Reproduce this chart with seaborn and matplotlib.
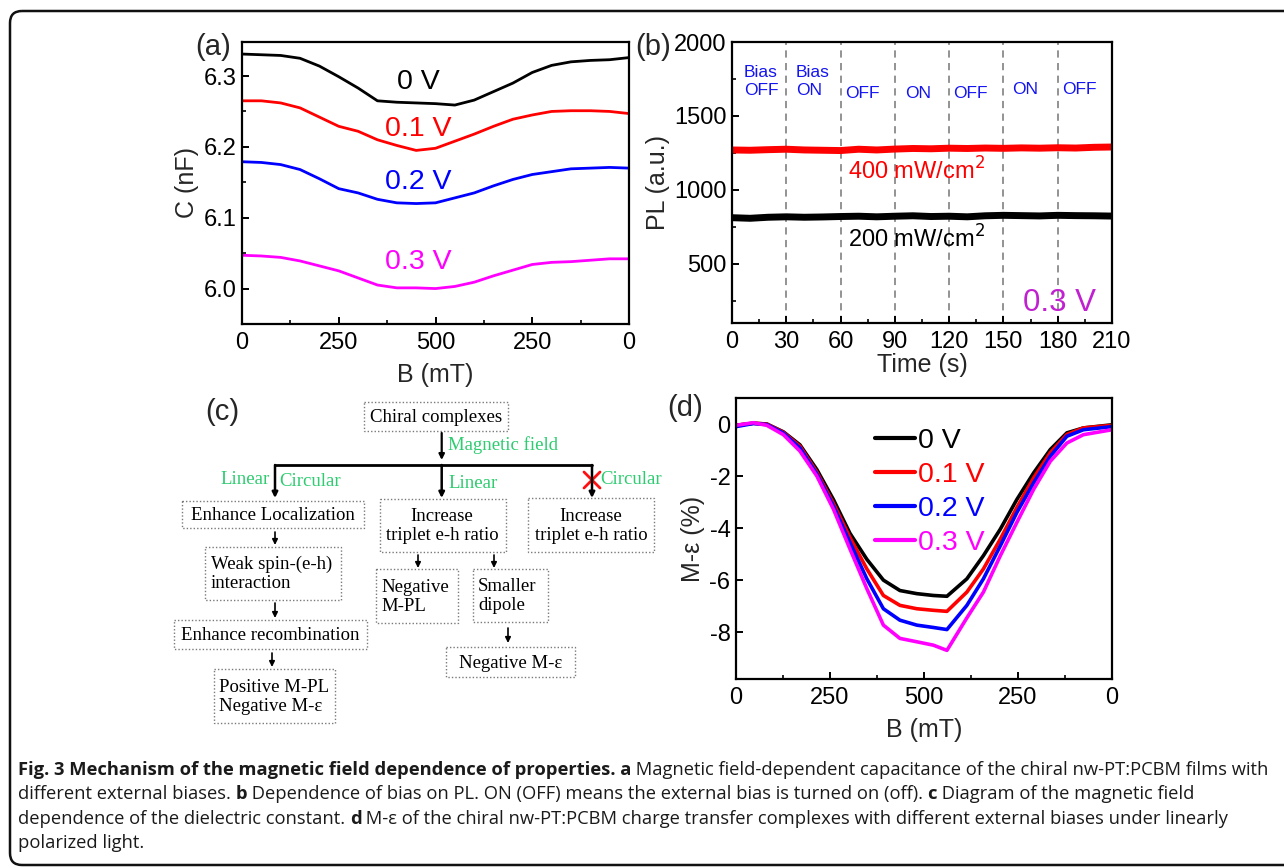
import matplotlib
matplotlib.use("Agg")
import matplotlib.pyplot as plt
import seaborn as sns
from matplotlib.patches import Rectangle, FancyBboxPatch
from matplotlib.ticker import MultipleLocator, FixedLocator

# ---------------- data ----------------
# (a) capacitance vs B (0 -> 500 -> 0 mT sweep, plotted on 0..1000)
b_sweep = [0, 50, 100, 150, 200, 250, 300, 350, 400, 450, 500,
           550, 600, 650, 700, 750, 800, 850, 900, 950, 1000]
cap_0v = [6.331, 6.330, 6.329, 6.325, 6.314, 6.299, 6.283, 6.265, 6.263, 6.262, 6.261,
          6.259, 6.266, 6.278, 6.290, 6.305, 6.315, 6.320, 6.322, 6.323, 6.326]
cap_01v = [6.265, 6.265, 6.262, 6.255, 6.242, 6.229, 6.222, 6.210, 6.202, 6.195, 6.198,
           6.208, 6.218, 6.229, 6.239, 6.245, 6.250, 6.251, 6.251, 6.250, 6.247]
cap_02v = [6.179, 6.178, 6.175, 6.168, 6.155, 6.141, 6.135, 6.126, 6.121, 6.120, 6.121,
           6.128, 6.135, 6.145, 6.154, 6.161, 6.165, 6.169, 6.170, 6.171, 6.170]
cap_03v = [6.047, 6.046, 6.044, 6.039, 6.032, 6.025, 6.015, 6.005, 6.001, 6.001, 6.000,
           6.003, 6.009, 6.018, 6.026, 6.034, 6.037, 6.038, 6.040, 6.042, 6.042]
b_ticks = [0, 250, 500, 750, 1000]
b_ticklabels = ["0", "250", "500", "250", "0"]

# (b) PL vs time
time_s = [0, 10, 20, 30, 40, 50, 60, 70, 80, 90, 100, 110,
          120, 130, 140, 150, 160, 170, 180, 190, 200, 210]
pl_400 = [1270, 1268, 1272, 1275, 1270, 1268, 1266, 1275, 1270, 1276, 1280, 1278,
          1282, 1280, 1283, 1281, 1284, 1282, 1285, 1283, 1288, 1290]
pl_200 = [812, 808, 815, 818, 815, 817, 820, 822, 818, 822, 825, 820,
          822, 818, 825, 828, 826, 824, 828, 826, 825, 823]
switch_times = [30, 60, 90, 120, 150, 180]
bias_states = ["Bias\nOFF", "Bias\nON", "OFF", "ON", "OFF", "ON", "OFF"]

# (d) M-epsilon vs B
b_sweep_d = [0, 46, 82, 126, 170, 215, 259, 303, 348, 392, 436, 481,
             525, 561, 614, 658, 703, 747, 792, 836, 880, 924, 1000]
me_0v = [-0.05, 0.03, 0.0, -0.30, -0.80, -1.75, -2.90, -4.20, -5.20, -6.00, -6.40, -6.52,
         -6.59, -6.62, -5.95, -5.06, -4.04, -2.90, -1.87, -0.98, -0.34, -0.15, -0.03]
me_01v = [-0.05, 0.03, 0.0, -0.32, -0.85, -1.85, -3.05, -4.36, -5.57, -6.59, -6.97, -7.10,
          -7.16, -7.20, -6.46, -5.57, -4.42, -3.21, -2.06, -1.10, -0.40, -0.15, -0.05]
me_02v = [-0.10, 0.02, -0.02, -0.35, -0.92, -1.92, -3.15, -4.55, -5.95, -7.10, -7.54, -7.73,
          -7.82, -7.90, -6.97, -5.95, -4.68, -3.40, -2.25, -1.24, -0.47, -0.22, -0.10]
me_03v = [-0.05, 0.05, -0.05, -0.41, -1.04, -2.00, -3.27, -4.80, -6.33, -7.73, -8.24, -8.37,
          -8.50, -8.70, -7.45, -6.46, -5.06, -3.78, -2.50, -1.43, -0.73, -0.41, -0.22]
bias_names = ["0 V", "0.1 V", "0.2 V", "0.3 V"]
bias_colors = ["#000000", "#ff0000", "#0000ff", "#ff00ff"]

# ---------------- style ----------------
sns.set_theme(style="ticks")
plt.rcParams["font.family"] = ["Liberation Sans", "DejaVu Sans"]
plt.rcParams["axes.linewidth"] = 1.6
plt.rcParams["axes.edgecolor"] = "black"
plt.rcParams["xtick.direction"] = "in"
plt.rcParams["ytick.direction"] = "in"
plt.rcParams["xtick.color"] = "black"
plt.rcParams["ytick.color"] = "black"

W, H = 1284, 868
fig = plt.figure(figsize=(W / 100, H / 100), dpi=100)
fig.patch.set_facecolor("white")

# overlay in pixel coordinates (border, panel c, caption, panel letters)
ov = fig.add_axes([0, 0, 1, 1])
ov.set_xlim(0, W)
ov.set_ylim(H, 0)
ov.axis("off")


def px_axes(left, top, right, bottom):
    return fig.add_axes([left / W, 1 - bottom / H, (right - left) / W, (bottom - top) / H])


def style_ticks(ax):
    ax.tick_params(which="major", length=5, width=1.4, labelsize=17, pad=6)
    ax.tick_params(which="minor", length=3, width=1.2)
    ax.tick_params(axis="y", pad=4)


# ---------------- (a) ----------------
ax_a = px_axes(242, 42, 629, 324)
for vals, col in zip([cap_0v, cap_01v, cap_02v, cap_03v], bias_colors):
    sns.lineplot(x=b_sweep, y=vals, ax=ax_a, color=col, lw=2)
ax_a.set_xlim(0, 1000)
ax_a.set_ylim(5.95, 6.348)
ax_a.xaxis.set_major_locator(FixedLocator(b_ticks))
ax_a.set_xticklabels(b_ticklabels)
ax_a.xaxis.set_minor_locator(MultipleLocator(125))
ax_a.yaxis.set_major_locator(MultipleLocator(0.1))
ax_a.yaxis.set_minor_locator(MultipleLocator(0.05))
ax_a.set_yticks([6.0, 6.1, 6.2, 6.3])
ax_a.set_yticklabels(["6.0", "6.1", "6.2", "6.3"])
style_ticks(ax_a)
ax_a.set_xlabel("B (mT)", fontsize=18, labelpad=6)
ax_a.set_ylabel("C (nF)", fontsize=18, labelpad=3)
for name, col, y in zip(bias_names, bias_colors, [6.292, 6.225, 6.151, 6.037]):
    ax_a.text(455, y, name, color=col, fontsize=20.5, ha="center", va="center")

# ---------------- (b) ----------------
ax_b = px_axes(732, 42, 1112, 323)
sns.lineplot(x=time_s, y=pl_400, ax=ax_b, color="#ff0000", lw=5)
sns.lineplot(x=time_s, y=pl_200, ax=ax_b, color="#000000", lw=5)
for t in switch_times:
    ax_b.axvline(t, color="#8a8a8a", ls=(0, (4, 3)), lw=1.3, zorder=0)
ax_b.set_xlim(0, 210)
ax_b.set_ylim(100, 2000)
ax_b.xaxis.set_major_locator(MultipleLocator(30))
ax_b.xaxis.set_minor_locator(MultipleLocator(15))
ax_b.yaxis.set_major_locator(FixedLocator([500, 1000, 1500, 2000]))
ax_b.yaxis.set_minor_locator(FixedLocator([250, 750, 1250, 1750]))
style_ticks(ax_b)
ax_b.set_xlabel("Time (s)", fontsize=18, labelpad=0)
ax_b.set_ylabel("PL (a.u.)", fontsize=18, labelpad=3)
for i, lab in enumerate(bias_states):
    x0 = [6.6, 35.4, 62.5, 95.6, 122, 154.7, 182.4][i]
    y0 = 1730 if "\n" in lab else (1676 if i >= 5 else 1655)
    ax_b.text(x0, y0, lab, color="#1414f0", fontsize=12.5, ha="left", va="center",
              linespacing=1.25)
ax_b.text(102, 1128, "400 mW/cm$^2$", color="#ff0000", fontsize=17, ha="center", va="center")
ax_b.text(102, 669, "200 mW/cm$^2$", color="#000000", fontsize=17, ha="center", va="center")
ax_b.text(181, 236, "0.3 V", color="#c020d0", fontsize=22.5, ha="center", va="center")

# ---------------- (d) ----------------
ax_d = px_axes(736, 398, 1112, 679)
for vals, col, name in zip([me_0v, me_01v, me_02v, me_03v], bias_colors, bias_names):
    sns.lineplot(x=b_sweep_d, y=vals, ax=ax_d, color=col, lw=2.6, label=name)
ax_d.set_xlim(0, 1000)
ax_d.set_ylim(-9.8, 1)
ax_d.xaxis.set_major_locator(FixedLocator(b_ticks))
ax_d.set_xticklabels(b_ticklabels)
ax_d.xaxis.set_minor_locator(MultipleLocator(125))
ax_d.yaxis.set_major_locator(FixedLocator([0, -2, -4, -6, -8]))
ax_d.set_yticklabels(["0", "-2", "-4", "-6", "-8"])
style_ticks(ax_d)
ax_d.set_xlabel("B (mT)", fontsize=18, labelpad=6)
ax_d.set_ylabel("M-ε (%)", fontsize=18, labelpad=3)
leg = ax_d.legend(loc="upper left", bbox_to_anchor=(0.34, 0.935), frameon=False,
                  fontsize=20.5, handlelength=1.4, handletextpad=0.1, labelspacing=0.28,
                  labelcolor="linecolor", borderaxespad=0)
for h in leg.get_lines():
    h.set_linewidth(3)

# ---------------- panel letters ----------------
for lab, x, y in [("(a)", 213, 47), ("(b)", 653, 47), ("(c)", 222, 412), ("(d)", 685, 408)]:
    ov.text(x, y, lab, fontsize=21, ha="center", va="center")

# ---------------- (c) flow diagram ----------------
serif = ["Liberation Serif", "DejaVu Serif"]
green = "#2dcc70"
fs_c = 13.5


def box(x0, y0, x1, y1):
    ov.add_patch(Rectangle((x0, y0), x1 - x0, y1 - y0, fill=False, ec="#7a7a7a",
                           lw=1.0, ls=(0, (1, 1.5))))


def arrow(x, y0, y1, lw=1.2, ms=8):
    ov.annotate("", xy=(x, y1), xytext=(x, y0),
                arrowprops=dict(arrowstyle="-|>", color="black", lw=lw,
                                mutation_scale=ms, shrinkA=0, shrinkB=0))


def ctext(x, y, s, color="black", ha="center"):
    ov.text(x, y, s, family=serif, fontsize=fs_c, color=color, ha=ha, va="center")


box(364, 402, 508, 431)
ctext(436, 417, "Chiral complexes")
arrow(441.7, 433, 460, lw=1.6)
ctext(448, 445, "Magnetic field", color=green, ha="left")
ov.plot([275, 592], [465, 465], color="black", lw=2)
for xv in [275, 441.7, 592]:
    arrow(xv, 465, 498, lw=1.8)
ctext(270, 479, "Linear", color=green, ha="right")
ctext(279, 481, "Circular", color=green, ha="left")
ctext(448, 484, "Linear", color=green, ha="left")
ctext(600, 480, "Circular", color=green, ha="left")
ov.plot([584, 600], [472, 488], color="#ff1010", lw=2)
ov.plot([584, 600], [488, 472], color="#ff1010", lw=2)

box(182, 501, 364, 528)
ctext(273, 515, "Enhance Localization")
arrow(275, 532, 545)
box(205, 547, 341, 600)
ctext(211, 574, "Weak spin-(e-h)\ninteraction", ha="left")
arrow(275, 603, 618)
box(174, 620, 367, 649)
ctext(270, 636, "Enhance recombination")
arrow(272, 653, 667)
box(214, 669, 335, 723)
ctext(219, 697, "Positive M-PL\nNegative M-ε", ha="left")

box(380, 499, 506, 552)
ctext(442, 526, "Increase\ntriplet e-h ratio")
arrow(418, 555, 568)
arrow(494, 555, 568)
box(376, 569, 458, 623)
ctext(381, 597, "Negative\nM-PL", ha="left")
box(473, 569, 548, 622)
ctext(478, 596, "Smaller\ndipole", ha="left")
arrow(508, 628, 643)
box(446, 647, 575, 677)
ctext(511, 663, "Negative M-ε")

box(528, 498, 654, 552)
ctext(591, 526, "Increase\ntriplet e-h ratio")

# ---------------- border ----------------
ov.add_patch(FancyBboxPatch((10, 11), 1300, 854, boxstyle="round,pad=0,rounding_size=12",
                            fill=False, ec="#111111", lw=1.8))

# ---------------- caption ----------------
cap_font = ["Open Sans", "DejaVu Sans"]
cap_fs = 13.25
renderer = fig.canvas.get_renderer()


def text_w(s, weight):
    t1 = ov.text(0, 0, "x" + s + "x", family=cap_font, fontsize=cap_fs, fontweight=weight)
    t2 = ov.text(0, 0, "xx", family=cap_font, fontsize=cap_fs, fontweight=weight)
    w = t1.get_window_extent(renderer).width - t2.get_window_extent(renderer).width
    t1.remove()
    t2.remove()
    return w


caption_lines = [
    [("Fig. 3 Mechanism of the magnetic field dependence of properties. a", "bold"),
     (" Magnetic field-dependent capacitance of the chiral nw-PT:PCBM films with", "normal")],
    [("different external biases. ", "normal"), ("b", "bold"),
     (" Dependence of bias on PL. ON (OFF) means the external bias is turned on (off). ", "normal"),
     ("c", "bold"), (" Diagram of the magnetic field", "normal")],
    [("dependence of the dielectric constant. ", "normal"), ("d", "bold"),
     (" M-ε of the chiral nw-PT:PCBM charge transfer complexes with different external biases under linearly", "normal")],
    [("polarized light.", "normal")],
]
for baseline, parts in zip([775, 799, 824, 848], caption_lines):
    x = 18
    for s, weight in parts:
        ov.text(x, baseline, s, family=cap_font, fontsize=cap_fs, fontweight=weight,
                ha="left", va="baseline", color="#1a1a1a")
        x += text_w(s, weight)

fig.savefig("out.png", dpi=100)
